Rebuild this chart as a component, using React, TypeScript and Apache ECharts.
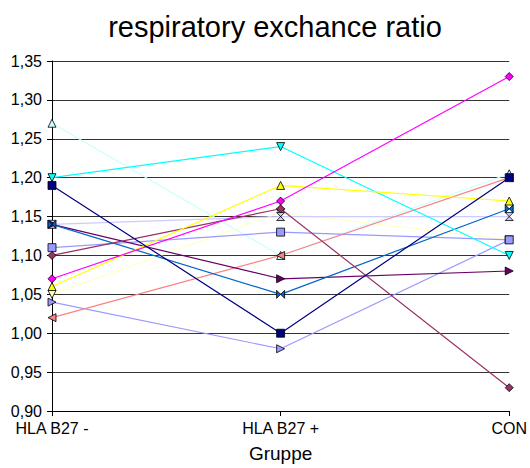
import React, { useEffect, useRef } from "react";
import * as echarts from "echarts";

const categories = ["HLA B27 -", "HLA B27 +", "CON"];
const yTicks = [0.9, 0.95, 1.0, 1.05, 1.1, 1.15, 1.2, 1.25, 1.3, 1.35];

// one list of respiratory exchange ratios per subject line
const navySquare = [1.19, 1.0, 1.2];
const magentaDiamond = [1.07, 1.17, 1.33];
const yellowTriangle = [1.06, 1.19, 1.17];
const cyanTriangleDown = [1.2, 1.24, 1.1];
const periwinkleSquare = [1.11, 1.13, 1.12];
const plumCircle = [1.1, 1.16, 0.93];
const ivoryTriangleDown = [1.05, 1.155, 1.12];
const turquoiseTriangle = [1.27, 1.1, 1.205];
const purpleRight = [1.14, 1.07, 1.08];
const coralLeft = [1.02, 1.1, 1.2];
const oceanBowtie = [1.14, 1.05, 1.16];
const iceHourglass = [1.14, 1.15, 1.15];
const periwinkleRight = [1.04, 0.98, 1.12];

const TRI_UP = "path://M0,-1L1,1L-1,1Z";
const TRI_DOWN = "path://M-1,-1L1,-1L0,1Z";
const TRI_RIGHT = "path://M-1,-1L1,0L-1,1Z";
const TRI_LEFT = "path://M1,-1L-1,0L1,1Z";
const BOWTIE = "path://M-1,-1L1,1L1,-1L-1,1Z";
const HOURGLASS = "path://M-1,-1L1,-1L-1,1L1,1Z";

const lines = [
  { data: turquoiseTriangle, color: "#CCFFFF", symbol: TRI_UP },
  { data: ivoryTriangleDown, color: "#FFFFCC", symbol: TRI_DOWN },
  { data: iceHourglass, color: "#CCCCFF", symbol: HOURGLASS },
  { data: periwinkleRight, color: "#9999FF", symbol: TRI_RIGHT },
  { data: periwinkleSquare, color: "#9999FF", symbol: "rect" },
  { data: coralLeft, color: "#FF8080", symbol: TRI_LEFT },
  { data: purpleRight, color: "#660066", symbol: TRI_RIGHT },
  { data: oceanBowtie, color: "#0066CC", symbol: BOWTIE },
  { data: plumCircle, color: "#993366", symbol: "diamond" },
  { data: cyanTriangleDown, color: "#00FFFF", symbol: TRI_DOWN },
  { data: yellowTriangle, color: "#FFFF00", symbol: TRI_UP },
  { data: magentaDiamond, color: "#FF00FF", symbol: "diamond" },
  { data: navySquare, color: "#000080", symbol: "rect" },
];

const FONT = "Liberation Sans, Arial, sans-serif";

export default function App() {
  const ref = useRef<HTMLDivElement>(null);

  useEffect(() => {
    document.body.style.margin = "0";
    if (!ref.current) return;
    const chart = echarts.init(ref.current, undefined, { renderer: "svg" });
    chart.setOption({
      animation: false,
      backgroundColor: "#fff",
      title: {
        text: "respiratory exchance ratio",
        left: 270,
        textAlign: "center",
        top: 7,
        textStyle: { fontFamily: FONT, fontSize: 29, fontWeight: "normal", color: "#000" },
      },
      grid: { left: 52, right: 16, top: 61, bottom: 56, containLabel: false },
      xAxis: {
        type: "category",
        data: categories,
        boundaryGap: false,
        name: "Gruppe",
        nameLocation: "middle",
        nameGap: 33,
        nameTextStyle: { fontFamily: FONT, fontSize: 19, color: "#000" },
        axisLine: { lineStyle: { color: "#000", width: 1 } },
        axisTick: { show: true, length: 5, lineStyle: { color: "#000" } },
        axisLabel: { fontFamily: FONT, fontSize: 16, color: "#000", margin: 9 },
        splitLine: { show: false },
      },
      yAxis: {
        type: "value",
        min: yTicks[0],
        max: yTicks[yTicks.length - 1],
        interval: 0.05,
        axisLine: { show: true, lineStyle: { color: "#000", width: 1 } },
        axisTick: { show: true, length: 5, lineStyle: { color: "#000" } },
        axisLabel: {
          fontFamily: FONT,
          fontSize: 16,
          color: "#000",
          margin: 10,
          formatter: (v: number) => v.toFixed(2).replace(".", ","),
        },
        splitLine: { show: true, lineStyle: { color: "#333", width: 1 } },
      },
      series: lines.map((l) => ({
        type: "line",
        data: l.data,
        symbol: l.symbol,
        symbolSize: 8,
        showAllSymbol: true,
        lineStyle: { color: l.color, width: 1.2 },
        itemStyle: { color: l.color, borderColor: "#000", borderWidth: 0.8 },
        emphasis: { disabled: true },
      })),
    });
    return () => chart.dispose();
  }, []);

  return <div ref={ref} style={{ width: 530, height: 468 }} />;
}
